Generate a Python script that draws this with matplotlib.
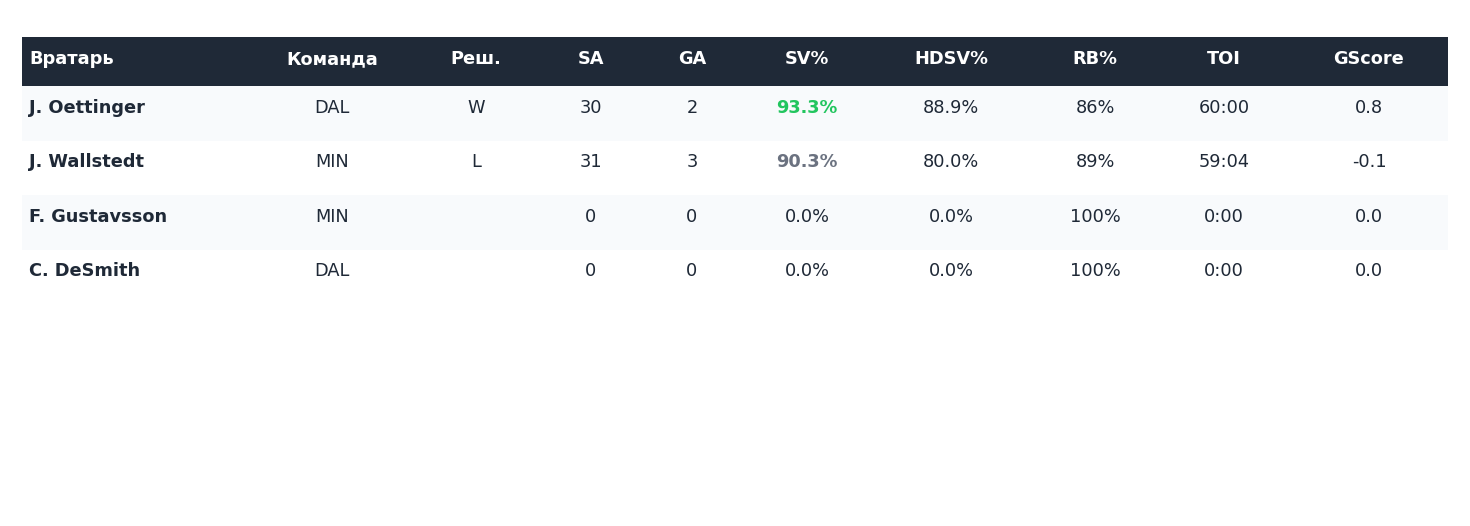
import matplotlib
matplotlib.use("Agg")
import matplotlib.pyplot as plt
from matplotlib.patches import Rectangle

plt.rcParams["font.family"] = ["DejaVu Sans"]

# table data
columns = ["Вратарь", "Команда", "Реш.", "SA", "GA", "SV%", "HDSV%", "RB%", "TOI", "GScore"]
goalies = ["J. Oettinger", "J. Wallstedt", "F. Gustavsson", "C. DeSmith"]
teams = ["DAL", "MIN", "MIN", "DAL"]
decisions = ["W", "L", "", ""]
shots = [30, 31, 0, 0]
goals = [2, 3, 0, 0]
sv_pct = ["93.3%", "90.3%", "0.0%", "0.0%"]
hdsv_pct = ["88.9%", "80.0%", "0.0%", "0.0%"]
rb_pct = ["86%", "89%", "100%", "100%"]
toi = ["60:00", "59:04", "0:00", "0:00"]
gscore = ["0.8", "-0.1", "0.0", "0.0"]
sv_colors = ["#22c55e", "#6b7280", "#1f2937", "#1f2937"]
sv_bold = [True, True, False, False]

W, H = 1470, 526
fig = plt.figure(figsize=(14.7, 5.26), dpi=100)
ax = fig.add_axes([0, 0, 1, 1])
ax.set_xlim(0, W)
ax.set_ylim(H, 0)
ax.axis("off")

dark = "#1f2937"
fs = 12.8
left, right = 22, 1448
head_top, head_h = 37, 49
row_h = 54.6
col_x = [29, 332, 476, 591, 692, 807, 951, 1095, 1224, 1369]

# header
ax.add_patch(Rectangle((left, head_top), right - left, head_h, color=dark, lw=0))
for i, c in enumerate(columns):
    ax.text(col_x[i], head_top + 22.5, c, color="white", fontsize=fs, fontweight="bold",
            ha="left" if i == 0 else "center", va="center")

# rows
for r in range(len(goalies)):
    top = head_top + head_h + r * row_h
    if r % 2 == 0:
        ax.add_patch(Rectangle((left, top), right - left, row_h, color="#f8fafc", lw=0))
    y = top + 21.6
    vals = [teams[r], decisions[r], str(shots[r]), str(goals[r]), sv_pct[r],
            hdsv_pct[r], rb_pct[r], toi[r], gscore[r]]
    ax.text(col_x[0], y, goalies[r], color=dark, fontsize=fs, fontweight="bold",
            ha="left", va="center")
    for j, v in enumerate(vals):
        col = j + 1
        color = dark
        weight = "normal"
        if columns[col] == "SV%":
            color = sv_colors[r]
            weight = "bold" if sv_bold[r] else "normal"
        ax.text(col_x[col], y, v, color=color, fontsize=fs, fontweight=weight,
                ha="center", va="center")

fig.savefig("out.png", dpi=100, facecolor="white")
